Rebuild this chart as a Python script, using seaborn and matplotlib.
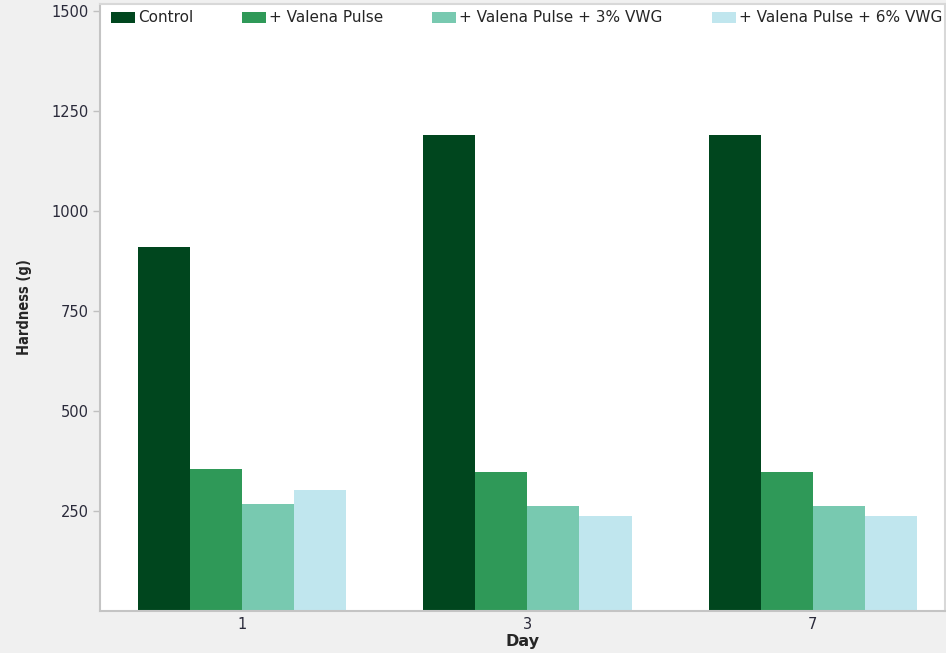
import pandas as pd
import matplotlib
matplotlib.use('Agg')
import matplotlib.pyplot as plt
import seaborn as sns

# Data
days = ['1', '3', '7']
treatments = ['Control', '+ Valena Pulse', '+ Valena Pulse + 3% VWG', '+ Valena Pulse + 6% VWG']
control = [910, 1190, 1190]
valena = [355, 348, 348]
valena_3 = [268, 263, 263]
valena_6 = [303, 238, 238]
colors = ['#00461e', '#2f9958', '#78c9b0', '#c0e6ee']

rows = []
for t, vals in zip(treatments, [control, valena, valena_3, valena_6]):
    for d, v in zip(days, vals):
        rows.append({'Day': d, 'Hardness': v, 'Treatment': t})
df = pd.DataFrame(rows)

sns.set_style('white')
plt.rcParams['font.family'] = ['DejaVu Sans']

fig = plt.figure(figsize=(9.46, 6.53), dpi=100, facecolor='#f0f0f0')
ax = fig.add_axes([100 / 946, 42 / 653, 845 / 946, 607 / 653])
ax.set_facecolor('white')

sns.barplot(data=df, x='Day', y='Hardness', hue='Treatment', order=days,
            hue_order=treatments, palette=colors, width=0.73, saturation=1,
            edgecolor='none', errorbar=None, ax=ax)

ax.set_xlim(-0.497, 2.463)
ax.set_ylim(0, 1517)
ax.set_yticks([250, 500, 750, 1000, 1250, 1500])
ax.tick_params(axis='y', length=5, width=1, color='#c0c0c0', labelsize=10.5,
               labelcolor='#2a2a3a', pad=3, left=True)
ax.tick_params(axis='x', length=0, labelsize=10.5, labelcolor='#2a2a3a', pad=4)

for side in ['left', 'bottom', 'top', 'right']:
    ax.spines[side].set_visible(True)
    ax.spines[side].set_color('#c4c4c4')
    ax.spines[side].set_linewidth(1.5)
ax.spines['top'].set_color('#d8d8d8')
ax.spines['right'].set_color('#d8d8d8')

ax.set_xlabel('Day', fontsize=11.5, fontweight='bold', labelpad=1.5)
ax.set_ylabel('Hardness (g)', fontsize=10.5, fontweight='bold', labelpad=14,
              fontstretch='condensed')

ax.legend(loc='upper left', bbox_to_anchor=(11 / 845, 1 - 6.5 / 607, 831 / 845, 0),
          mode='expand', ncol=4, frameon=False, fontsize=11,
          handlelength=1.57, handleheight=0.72, handletextpad=0.2,
          borderaxespad=0, borderpad=0)

fig.savefig('out.png', dpi=100, facecolor=fig.get_facecolor())
